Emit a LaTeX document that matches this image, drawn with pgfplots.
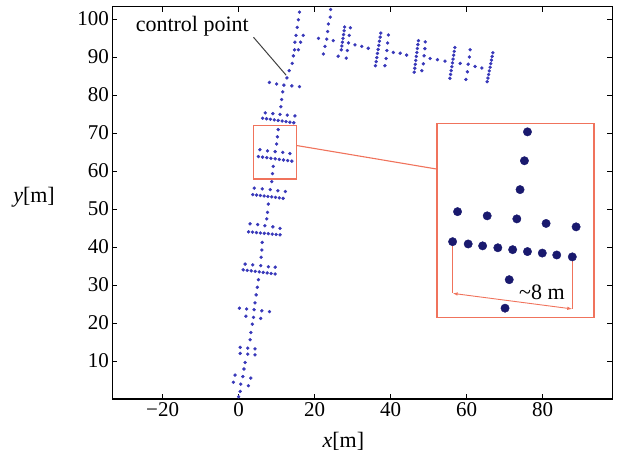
\documentclass[border=0pt]{standalone}
\usepackage{pgfplots}
\pgfplotsset{compat=1.18}
\usepackage{fontspec}
\setmainfont{Liberation Serif}
\usetikzlibrary{arrows.meta}
\definecolor{dotblue}{RGB}{55,55,185}
\definecolor{dotnavy}{RGB}{25,25,110}
\definecolor{boxred}{RGB}{240,115,92}
\begin{document}
\begin{tikzpicture}[font=\fontsize{22}{26}\selectfont]
\begin{axis}[
    x=3.8pt, y=3.8pt,
    xmin=-33.2, xmax=98.3,
    ymin=0, ymax=103.2,
    xtick={-20,0,20,40,60,80},
    xticklabels={−20,0,20,40,60,80},
    ytick={10,20,...,100},
    /pgf/number format/assume math mode=true,
    tick label style={font=\fontsize{21}{25}\selectfont},
    axis line style={line width=1.2pt},
    major tick length=5pt,
    tick style={line width=0.8pt, black},
    xlabel={\textit{x}[m]},
    ylabel={\textit{y}[m]},
    xlabel style={at={(axis description cs:0.462,-0.107)}, anchor=center},
    ylabel style={rotate=-90, at={(axis description cs:-0.157,0.515)}, anchor=center},
]
% main path
\addplot[only marks, mark=*, mark size=1.5pt, color=dotblue] coordinates {
    (0.0,0.6) (0.4,2.0)
    (-1.4,4.4) (0.55,3.9) (2.55,3.5) (-0.95,6.3) (1.1,5.9) (3.2,5.5)
    (1.4,7.9) (1.7,9.6)
    (0.4,13.6) (2.4,13.4) (4.3,13.2) (0.4,12.0) (2.4,11.8) (4.3,11.6)
    (3.0,15.6) (3.2,17.5) (3.6,19.7)
    (1.9,21.8) (3.9,21.5) (5.8,21.2)
    (0.2,23.9) (2.1,23.7) (4.05,23.5) (6.1,23.2) (8.1,23.0)
    (4.3,25.3) (4.6,27.4) (4.9,29.4) (5.2,31.4)
    (1.2,34.0) (2.25,33.86) (3.3,33.73) (4.35,33.59) (5.4,33.45) (6.45,33.31) (7.5,33.18) (8.55,33.04) (9.6,32.9)
    (1.7,35.5) (3.7,35.3) (5.8,35.1) (7.8,34.8) (9.6,34.7)
    (5.9,37.3) (6.1,39.2) (6.2,41.2)
    (2.6,44.0) (3.64,43.9) (4.68,43.8) (5.71,43.7) (6.75,43.6) (7.79,43.5) (8.83,43.4) (9.86,43.3) (10.9,43.2)
    (3.0,46.1) (5.0,45.9) (6.9,45.6) (9.0,45.3) (10.9,44.9)
    (7.4,47.4) (7.6,49.1) (7.8,51.3)
    (3.7,53.8) (4.7,53.68) (5.7,53.55) (6.7,53.43) (7.7,53.3) (8.7,53.18) (9.7,53.05) (10.7,52.93) (11.7,52.8)
    (4.1,55.5) (6.2,55.3) (8.3,55.1) (10.3,54.8) (12.3,54.6)
    (8.7,57.2) (8.9,59.3) (9.1,61.2)
    (5.2,63.8) (6.3,63.65) (7.4,63.5) (8.5,63.35) (9.6,63.2) (10.7,63.05) (11.8,62.9) (12.9,62.75) (14.0,62.6)
    (5.6,65.6) (7.6,65.3) (9.6,65.1) (11.6,64.9) (13.5,64.6)
    (10.0,67.1) (10.2,69.0) (10.4,70.9)
    (6.3,73.9) (7.33,73.75) (8.35,73.6) (9.38,73.45) (10.4,73.3) (11.43,73.15) (12.45,73.0) (13.48,72.85) (14.5,72.7)
    (7.0,75.3) (9.0,75.1) (10.9,74.9) (12.8,74.7) (14.8,74.5)
    (11.1,76.9) (11.3,78.8) (11.6,80.8)
    (8.1,83.3) (10.0,82.9) (11.9,82.6) (14.0,82.4) (16.0,82.2)
    (12.7,84.5)
    (13.3,86.4) (14.1,88.3) (14.4,90.3) (14.7,91.9) (15.7,91.9) (14.8,93.9) (16.3,93.9)
    (15.1,95.7) (17.0,95.7) (15.4,97.8) (15.7,99.8) (16.0,101.8) (16.3,103.7)
};
% second path
\addplot[only marks, mark=*, mark size=1.5pt, color=dotblue] coordinates {
    (22.3,90.8) (22.7,92.8) (23.2,94.7) (23.4,96.7) (23.6,98.7) (24.1,100.5) (24.2,102.5) (24.4,104.4)
    (21.0,94.9) (24.9,94.3) (26.2,90.2)
    (27.9,97.9) (27.75,96.9) (27.6,95.9) (27.45,94.9) (27.3,93.9) (27.15,92.9) (27.0,91.9)
    (29.4,97.7) (29.1,95.7) (28.9,93.7) (28.6,91.7) (28.3,89.7)
    (30.6,93.2) (32.4,92.8) (34.1,92.3)
    (37.4,96.3) (37.23,95.23) (37.05,94.15) (36.88,93.08) (36.7,92.0) (36.53,90.93) (36.35,89.85) (36.18,88.78) (36.0,87.7)
    (39.4,95.8) (39.2,93.7) (39.0,91.7) (38.8,89.6) (38.5,87.7)
    (40.7,91.2) (42.5,91.0) (44.2,90.5)
    (47.3,94.3) (47.16,93.26) (47.03,92.23) (46.89,91.19) (46.75,90.15) (46.61,89.11) (46.48,88.08) (46.34,87.04) (46.2,86.0)
    (49.1,94.0) (49.0,92.2) (48.8,90.3) (48.6,88.2) (48.2,86.4)
    (50.4,89.6) (52.3,89.3) (54.3,88.9)
    (56.9,92.5) (56.74,91.49) (56.58,90.48) (56.41,89.46) (56.25,88.45) (56.09,87.44) (55.93,86.43) (55.76,85.41) (55.6,84.4)
    (58.3,88.3)
    (60.9,91.9) (60.7,90.0) (60.4,88.1) (60.2,86.1) (59.8,84.1)
    (62.2,87.5) (64.0,87.1)
    (66.9,91.1) (66.71,90.15) (66.53,89.2) (66.34,88.25) (66.15,87.3) (65.96,86.35) (65.78,85.4) (65.59,84.45) (65.4,83.5)
};
% zoom box, connector and inset frame
\draw[boxred, line width=1.1pt] (axis cs:3.9,57.9) rectangle (axis cs:15.3,71.9);
\draw[boxred, line width=1.1pt] (axis cs:15.3,66.7) -- (axis cs:52.2,60.5);
\draw[boxred, line width=1.1pt] (axis cs:52.2,21.5) rectangle (axis cs:93.5,72.6);
\draw[boxred, line width=0.9pt] (axis cs:56.3,41.4) -- (axis cs:56.3,27.8);
\draw[boxred, line width=0.9pt] (axis cs:87.8,37.4) -- (axis cs:87.8,23.7);
\draw[boxred, line width=0.9pt, {Latex[length=5pt,width=3.5pt]}-{Latex[length=5pt,width=3.5pt]}] (axis cs:56.3,27.8) -- (axis cs:87.8,23.7);
\node at (axis cs:79.8,28.0) {\textasciitilde8 m};
% inset dots
\addplot[only marks, mark=*, mark size=4.2pt, color=dotnavy] coordinates {
    (76.0,70.3) (75.2,62.7) (74.05,55.1)
    (57.6,49.3) (65.4,48.2) (73.2,47.4) (80.9,46.2) (88.8,45.3)
    (56.3,41.4) (60.4,40.8) (64.2,40.3) (68.2,39.8) (72.1,39.3) (76.0,38.8) (79.9,38.4) (83.7,37.9) (87.8,37.4)
    (71.2,31.4) (70.1,23.9)
};
% control point annotation
\draw[black!75, line width=1pt] (axis cs:3.9,95.2) -- (axis cs:12.5,85.2);
\node[anchor=base east] at (axis cs:3.6,96.8) {control point};
\end{axis}
\pgfresetboundingbox
\path (-112.5pt,-59pt) rectangle (504.5pt,399pt);
\end{tikzpicture}
\end{document}
